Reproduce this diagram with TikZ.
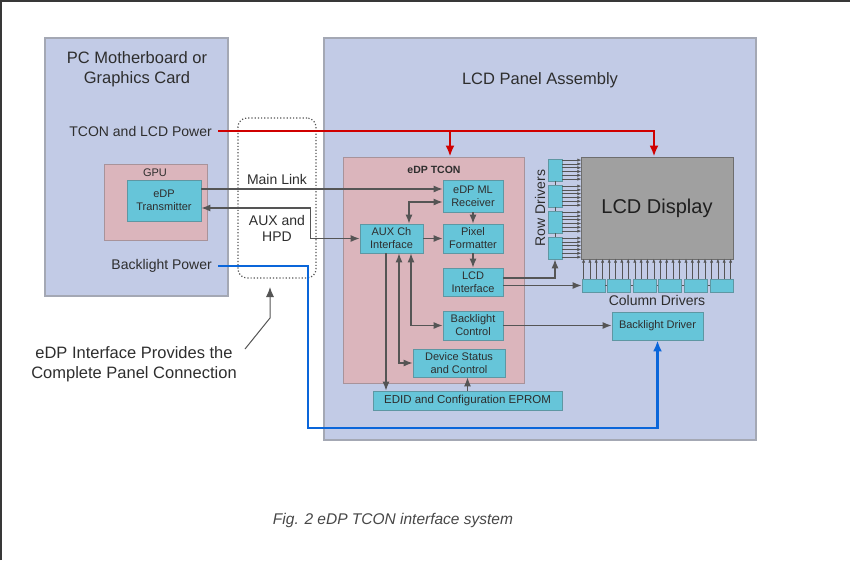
\documentclass[tikz,border=0pt]{standalone}
\usepackage{fontspec}
\setmainfont{Liberation Sans}
\usetikzlibrary{arrows,arrows.meta,positioning}

\definecolor{panelblue}{HTML}{C2CBE6}
\definecolor{panelline}{HTML}{A4A8B4}
\definecolor{chippink}{HTML}{DBB5BC}
\definecolor{chipline}{HTML}{A8939A}
\definecolor{blockcyan}{HTML}{66C5D9}
\definecolor{blockline}{HTML}{5E97A3}
\definecolor{lcdgray}{HTML}{A0A0A0}
\definecolor{lcdline}{HTML}{6E6E6E}
\definecolor{sigline}{HTML}{555555}
\definecolor{powerred}{HTML}{D00000}
\definecolor{powerblue}{HTML}{0A66DA}
\definecolor{inktext}{HTML}{2E2E2E}

\begin{document}
\begin{tikzpicture}[x=1pt, y=-1pt,
    panel/.style={rectangle, draw=panelline, fill=panelblue, line width=1.2pt},
    chip/.style={rectangle, draw=chipline, fill=chippink, line width=0.8pt},
    block/.style={rectangle, draw=blockline, fill=blockcyan, line width=0.8pt,
        text centered, align=center, inner sep=0pt, text=inktext,
        font=\fontsize{11}{13}\selectfont},
    driver/.style={rectangle, draw=blockline, fill=blockcyan, line width=0.8pt, inner sep=0pt},
    label/.style={text=inktext, align=center, inner sep=0pt, font=\fontsize{14}{20}\selectfont},
    small/.style={text=inktext, align=center, inner sep=0pt, font=\fontsize{11}{13}\selectfont},
    sig/.style={draw=sigline, line width=1.1pt, -{Latex[length=9pt,width=7pt]}},
    sigboth/.style={draw=sigline, line width=1.1pt, {Latex[length=9pt,width=7pt]}-{Latex[length=9pt,width=7pt]}},
    tick/.style={draw=sigline, line width=0.6pt, -{Latex[length=4pt,width=3.2pt]}},
    power/.style={line width=2.2pt, -{Latex[length=11pt,width=9pt]}},
    frame/.style={draw=black!78, line width=2pt}
    ]
    \useasboundingbox (0,0) rectangle (850,560);
    \draw[frame] (1,560) -- (1,1) -- (850,1);

    % host side
    \node (PcBoard) [panel, minimum width=183pt, minimum height=258pt] at (136.5,167) {};
    \node (PcTitle) [label, font=\fontsize{16.5}{20}\selectfont] at (137,69) {PC Motherboard or\\Graphics Card};
    \node (TconPwrLbl) [label, anchor=east] at (212,131) {TCON and LCD Power};
    \node (BlPwrLbl) [label, anchor=east] at (212,266) {Backlight Power};
    \node (GpuChip) [chip, minimum width=103pt, minimum height=76pt] at (155.5,202) {};
    \node (GpuLbl) [small] at (155,173) {GPU};
    \node (EdpTx) [block, minimum width=74pt, minimum height=41pt] at (164,200.5) {eDP\\Transmitter};

    % interface
    \node (Interface) [rectangle, draw=sigline, dotted, line width=1.2pt, rounded corners=9pt,
        minimum width=78pt, minimum height=160pt] at (277,198) {};
    \node (MainLinkLbl) [label] at (277,179) {Main Link};
    \node (AuxLbl) [label, font=\fontsize{14}{16}\selectfont] at (277,228) {AUX and\\HPD};

    % panel side
    \node (LcdPanel) [panel, minimum width=432pt, minimum height=402pt] at (540,239) {};
    \node (PanelTitle) [label, font=\fontsize{16.5}{20}\selectfont] at (540,80) {LCD Panel Assembly};
    \node (TconChip) [chip, minimum width=181pt, minimum height=226pt] at (433.5,270) {};
    \node (TconLbl) [small, font=\bfseries\fontsize{10.5}{12}\selectfont] at (434,170) {eDP TCON};
    \node (MlRx) [block, minimum width=60pt, minimum height=32pt] at (473,196) {eDP ML\\Receiver};
    \node (AuxCh) [block, minimum width=63pt, minimum height=29pt] at (391.5,238.5) {AUX Ch\\Interface};
    \node (PixFmt) [block, minimum width=60pt, minimum height=29pt] at (473,238.5) {Pixel\\Formatter};
    \node (LcdIf) [block, minimum width=60pt, minimum height=28pt] at (473,282) {LCD\\Interface};
    \node (BlCtrl) [block, minimum width=60pt, minimum height=29pt] at (473,325.5) {Backlight\\Control};
    \node (DevStat) [block, minimum width=92pt, minimum height=28pt] at (459,363) {Device Status\\and Control};
    \node (Eprom) [block, minimum width=189pt, minimum height=19pt, font=\fontsize{11.5}{13}\selectfont] at (467.5,400.5) {EDID and Configuration EPROM};
    \node (LcdDisp) [rectangle, draw=lcdline, fill=lcdgray, line width=1pt, text=black!88,
        minimum width=152pt, minimum height=102pt, font=\fontsize{20}{22}\selectfont] at (657,208) {LCD Display};
    \node (BlDriver) [block, minimum width=91pt, minimum height=28pt] at (657.5,326) {\strut Backlight Driver};

    % row and column drivers
    \foreach \n/\y in {1/170, 2/196, 3/222, 4/248} {
        \node (RowDrv\n) [driver, minimum width=14pt, minimum height=22pt] at (555,\y) {};
        \foreach \k in {1.5, 5.3, 9.1, 12.9, 16.7, 20.5}
            \draw[tick] ([yshift=-\k pt]RowDrv\n.north east) -- ++(19,0);
    }
    \foreach \n [count=\i from 0] in {1,...,6} {
        \node (ColDrv\n) [driver, minimum width=23pt, minimum height=13pt] at (593.5+25.6*\i,285.5) {};
        \foreach \k in {2, 8.3, 14.6, 21}
            \draw[tick] ([xshift=\k pt]ColDrv\n.north west) -- ++(0,-20);
    }
    \foreach \a/\b in {1/2, 2/3, 3/4}
        \draw[draw=sigline, line width=0.8pt] (RowDrv\a.south) -- (RowDrv\b.north);
    \foreach \a/\b in {1/2, 2/3, 3/4, 4/5, 5/6}
        \draw[draw=sigline, line width=0.8pt] (ColDrv\a.east) -- (ColDrv\b.west);
    \node (RowLbl) [label, rotate=90] at (540,208) {Row Drivers};
    \node (ColLbl) [label] at (657,300) {Column Drivers};

    % signal connections
    \draw[sig] ([yshift=11.5pt]EdpTx.east) -- ([yshift=11.5pt]EdpTx.east -| MlRx.west);
    \draw[sigboth] ([yshift=-7.5pt]EdpTx.east) -- ++(109,0) |- (AuxCh.west);
    \draw[sigboth] ([xshift=17.5pt]AuxCh.north) |- ([yshift=-6pt]MlRx.west);
    \draw[sig] (AuxCh.east) -- (PixFmt.west);
    \draw[sig] (MlRx.south) -- (PixFmt.north);
    \draw[sig] (PixFmt.south) -- (LcdIf.north);
    \draw[sig] ([yshift=4pt]LcdIf.east) -| (RowDrv4.south);
    \draw[sig] (LcdIf.east |- ColDrv1.west) -- (ColDrv1.west);
    \draw[sig] (BlCtrl.east) -- (BlCtrl.east -| BlDriver.west);
    \draw[sigboth] ([xshift=19.5pt]AuxCh.south) |- (BlCtrl.west);
    \draw[sigboth] ([xshift=7.5pt]AuxCh.south) |- (DevStat.west);
    \draw[sig] ([xshift=-5.5pt]AuxCh.south) -- ([xshift=-5.5pt]AuxCh.south |- Eprom.north);
    \draw[sig] (Eprom.north) -- (Eprom.north |- DevStat.south);

    % power lines
    \coordinate (PwrTap) at (450,131);
    \coordinate (BlBendA) at (308,266);
    \coordinate (BlBendB) at (308,428);
    \draw[power, powerred] ([xshift=6pt]TconPwrLbl.east) -| ([xshift=-3pt]LcdDisp.north);
    \draw[power, powerred] (PwrTap) -- (PwrTap |- TconChip.north);
    \draw[power, powerblue] ([xshift=6pt]BlPwrLbl.east) -- (BlBendA) -- (BlBendB) -| (BlDriver.south);

    % note
    \node (NoteLbl) [label, font=\fontsize{16.5}{20}\selectfont] at (134,364) {eDP Interface Provides the\\Complete Panel Connection};
    \coordinate (NoteStart) at (245,349);
    \coordinate (NoteKnee) at (270,318);
    \coordinate (NoteTip) at (270,287);
    \draw[draw=sigline, line width=1pt, -{Latex[length=10pt,width=8pt]}] (NoteStart) -- (NoteKnee) -- (NoteTip);

    \node (Caption) [label, font=\itshape\fontsize{15.5}{17}\selectfont, text=black!72] at (393,520) {Fig. 2 eDP TCON interface system};
\end{tikzpicture}
\end{document}
